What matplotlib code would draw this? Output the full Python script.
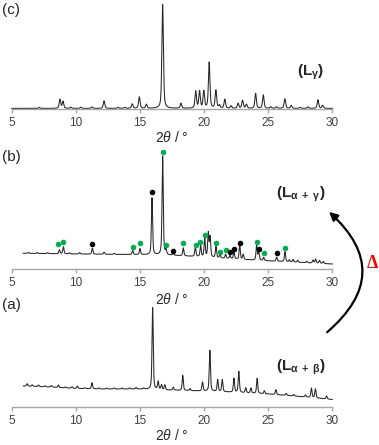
import numpy as np
import matplotlib
matplotlib.use('Agg')
import matplotlib.pyplot as plt
from matplotlib.patches import FancyArrowPatch

plt.rcParams['font.family'] = ['Liberation Sans', 'DejaVu Sans']
plt.rcParams['mathtext.fontset'] = 'custom'
plt.rcParams['mathtext.it'] = 'Liberation Sans:italic'
plt.rcParams['mathtext.rm'] = 'Liberation Sans'
plt.rcParams['mathtext.bf'] = 'Liberation Sans:bold'
plt.rcParams['mathtext.default'] = 'regular'

# ---- data (2theta in deg, intensity in arb. units) ----
# (c) L_gamma
c_pos = [7.15, 8.76, 9.0, 9.6, 10.4, 11.25, 12.2, 13.3, 13.8, 14.4, 14.95,
         15.5, 16.77, 18.2, 19.35, 19.65, 19.98, 20.4, 20.92, 21.2, 21.62,
         22.1, 22.65, 23.0, 23.3, 24.02, 24.62, 25.2, 25.65, 26.3, 26.8,
         27.5, 28.1, 28.88, 29.25]
c_int = [1, 9, 7, 1.2, 1.2, 1.5, 7.5, 1, 1, 4.5, 11.5,
         4, 104, 5, 17, 17, 17, 46, 18, 3, 9,
         2.5, 5, 8, 4, 15, 13.5, 1.5, 1.5, 9.5, 3,
         1, 1.5, 8.5, 3]
c_base_x = [5.0, 30.0]
c_base_y = [0.6, 0.6]

# (b) L_alpha+gamma
b_pos = [6.3, 7.0, 7.8, 8.72, 9.03, 9.5, 10.3, 11.29, 12.2, 13.0, 14.43,
         15.0, 15.94, 16.77, 17.03, 17.6, 18.38, 19.32, 19.73, 20.05, 20.33,
         20.47, 20.93, 21.24, 21.68, 22.02, 22.33, 22.78, 23.05, 24.1, 24.26,
         24.65, 25.66, 26.31, 26.65, 26.95, 27.3, 28.0, 28.5, 28.7, 29.0, 29.3]
b_int = [1, 1, 1, 4, 7, 1, 1.5, 6, 2, 1, 4,
         6, 57, 99, 4.5, 2, 8, 9, 11, 19, 24,
         20, 11, 3, 4, 3, 7, 14, 5, 15, 8,
         3, 4, 10, 2, 2.5, 2, 1.5, 3, 4, 3, 2]
b_base_x = [5.9, 10, 14, 17, 20, 23, 26, 30]
b_base_y = [15.7, 15, 14.5, 14, 12, 9.5, 7.5, 5]

# phase markers in (b)
green_x = [8.64, 9.03, 14.49, 15.0, 16.77, 17.06, 18.38, 19.35, 19.71, 20.05,
           20.96, 21.27, 21.68, 24.1, 24.65, 26.31]
green_y = [25, 27, 21.7, 25.7, 116.7, 24, 25.7, 24, 27.3, 34.3,
           25.7, 16.7, 19, 27.3, 16.3, 21.3]
black_x = [11.29, 15.94, 17.6, 22.02, 22.33, 22.78, 24.26, 25.66]
black_y = [25.3, 77.3, 18.3, 16.7, 20.3, 25.7, 19.7, 16.3]

# (a) L_alpha+beta
a_pos = [6.2, 6.6, 7.1, 7.6, 8.1, 8.64, 9.2, 9.7, 10.12, 10.7, 11.26, 11.8,
         12.4, 13.0, 13.6, 14.2, 14.7, 15.3, 15.99, 16.42, 16.68, 16.94, 17.6,
         18.34, 18.9, 19.88, 20.45, 21.06, 21.42, 22.33, 22.71, 23.25, 23.65,
         24.14, 24.7, 25.6, 26.4, 27.0, 27.9, 28.37, 28.68, 29.55]
a_int = [2.5, 1.5, 1.5, 1, 1.5, 2.5, 1, 1.5, 2.5, 1, 6, 1,
         1, 1, 1, 1, 1.5, 1, 82, 8, 5, 5, 3,
         15, 2, 9, 41, 12, 12, 14, 21, 5, 5,
         15, 3, 5, 2, 1.5, 2, 9.5, 9, 3]
a_base_x = [5.9, 8, 10, 12, 15, 17, 19, 21, 23, 25, 27, 30]
a_base_y = [21, 20, 18.5, 18, 18, 17, 16.3, 15.5, 14.3, 13, 11, 7.5]

ticks = [5, 10, 15, 20, 25, 30]


def pattern(x, pos, inten, fwhm, bx, by):
    # pseudo-Voigt peaks on top of the background
    y = np.interp(x, bx, by)
    hw = fwhm / 2.0
    for p, h in zip(pos, inten):
        d = (x - p) / hw
        y = y + h * (0.5 / (1 + d ** 2) + 0.5 * np.exp(-np.log(2) * d ** 2))
    return y


W, H = 379.0, 445.0


def box(top, bottom):
    return [11.7 / W, 1 - bottom / H, (332.3 - 11.7) / W, (bottom - top) / H]


fig = plt.figure(figsize=(3.79, 4.45), dpi=100, facecolor='white')

panels = [
    (box(2, 109), 107, c_pos, c_int, 0.14, c_base_x, c_base_y, 5.0),
    (box(150, 269), 119, b_pos, b_int, 0.11, b_base_x, b_base_y, 5.9),
    (box(300, 407), 107, a_pos, a_int, 0.11, a_base_x, a_base_y, 5.9),
]

axes = []
for rect, ytop, pos, inten, fw, bx, by, x0 in panels:
    ax = fig.add_axes(rect)
    x = np.linspace(x0, 30, 3000)
    ax.plot(x, pattern(x, pos, inten, fw, bx, by), color='#262626', lw=0.75,
            clip_on=False)
    ax.set_xlim(5, 30)
    ax.set_ylim(0, ytop)
    ax.patch.set_alpha(0)
    for s in ['top', 'left', 'right']:
        ax.spines[s].set_visible(False)
    ax.spines['bottom'].set_color('#a6a6a6')
    ax.spines['bottom'].set_linewidth(1.0)
    ax.set_yticks([])
    ax.set_xticks(ticks)
    ax.tick_params(axis='x', direction='out', length=3, width=1.0,
                   color='#a6a6a6', labelsize=8.5, labelcolor='#404040', pad=3)
    axes.append(ax)


def fx(px):
    return px / W


def fy(py):
    return 1 - py / H


# green / black phase markers on (b)
axes[1].plot(green_x, green_y, 'o', color='#00b050', ms=4, mec='none',
             clip_on=False)
axes[1].plot(black_x, black_y, 'o', color='black', ms=4, mec='none',
             clip_on=False)

# x labels
for yl in [138, 299, 436]:
    fig.text(fx(171.5), fy(yl), r'$\mathit{2\theta}$ / °', ha='center',
             va='center', fontsize=10, color='#262626')

# panel tags and phase names
for tag, yt in [('(c)', 10), ('(b)', 157), ('(a)', 305)]:
    fig.text(fx(2), fy(yt), tag, ha='left', va='center', fontsize=11,
             color='#262626')
for name, xt, yt in [(r'(L$_{\gamma}$)', 311, 72),
                     (r'(L$_{\alpha\ +\ \gamma}$)', 301, 194),
                     (r'(L$_{\alpha\ +\ \beta}$)', 301, 367)]:
    fig.text(fx(xt), fy(yt), name, ha='center', va='center', fontsize=11,
             fontweight='bold', color='#262626')

# heating arrow
arrow = FancyArrowPatch((fx(325), fy(334)), (fx(327), fy(210)),
                        transform=fig.transFigure,
                        connectionstyle='arc3,rad=0.58',
                        arrowstyle='-|>,head_length=5,head_width=2.5',
                        lw=1.6, color='black')
fig.patches.append(arrow)
fig.text(fx(372), fy(264), 'Δ', ha='center', va='center', fontsize=13,
         fontweight='bold', color='red', family=['Liberation Serif'])

fig.savefig('out.png', dpi=100, facecolor='white')
